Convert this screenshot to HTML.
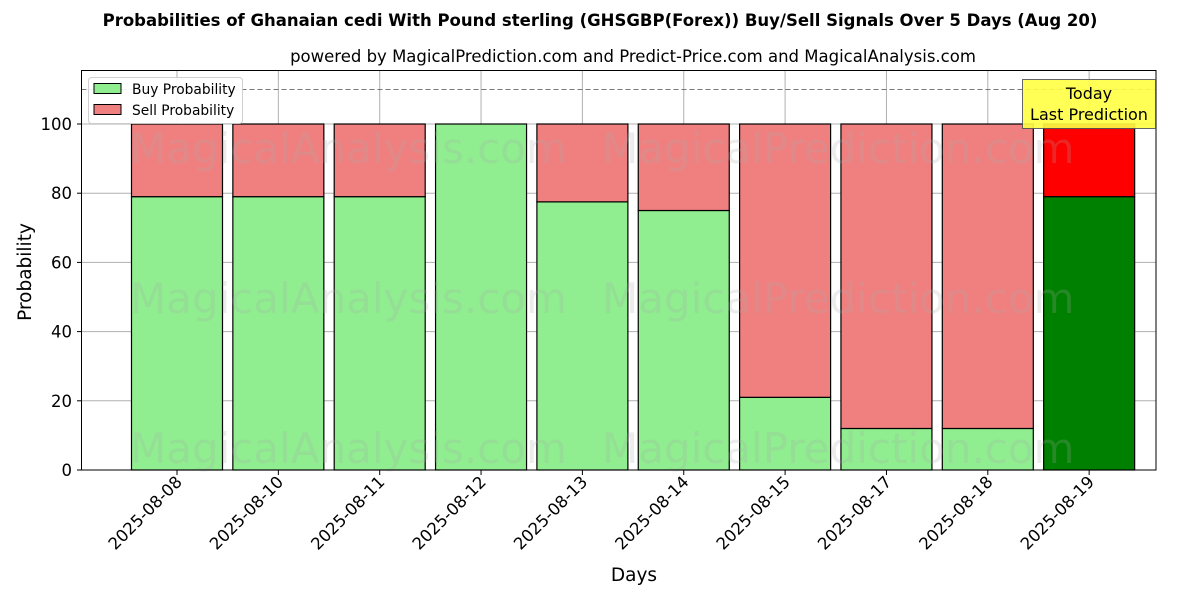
<!DOCTYPE html>
<html><head><meta charset="utf-8"><style>
body{margin:0;background:#fff;}
svg{display:block;font-family:"DejaVu Sans","Liberation Sans",sans-serif;}
</style></head><body>
<svg id="c" width="1200" height="600" xmlns="http://www.w3.org/2000/svg">
<text x="600" y="26" text-anchor="middle" font-size="16.5" font-weight="bold">Probabilities of Ghanaian cedi With Pound sterling (GHSGBP(Forex)) Buy/Sell Signals Over 5 Days (Aug 20)</text>
<text x="633" y="62" text-anchor="middle" font-size="16.5">powered by MagicalPrediction.com and Predict-Price.com and MagicalAnalysis.com</text>
<g id="grid"></g>
<g id="bars"></g>
<g id="wm" font-size="42" fill="#aaa" opacity="0.22">
<text x="130" y="163">MagicalAnalysis.com</text><text x="602" y="163">MagicalPrediction.com</text>
<text x="130" y="313">MagicalAnalysis.com</text><text x="602" y="313">MagicalPrediction.com</text>
<text x="130" y="463">MagicalAnalysis.com</text><text x="602" y="463">MagicalPrediction.com</text>
</g>
<line x1="81.5" x2="1156" y1="89.5" y2="89.5" stroke="#777" stroke-dasharray="5,3"/>
<rect x="81.5" y="70.5" width="1074.5" height="399.5" fill="none" stroke="#000"/>
<g id="ticks"></g>
<text x="634" y="581" text-anchor="middle" font-size="18.5">Days</text>
<text x="31" y="272" text-anchor="middle" font-size="18.5" transform="rotate(-90 31 272)">Probability</text>
<g>
<rect x="1022.5" y="79.5" width="133" height="49" fill="#ffff44" stroke="#555" opacity="0.9"/>
<text x="1089" y="99" text-anchor="middle" font-size="16">Today</text>
<text x="1089" y="120" text-anchor="middle" font-size="16">Last Prediction</text>
</g>
<g>
<rect x="88.5" y="77.5" width="154" height="46" fill="#fff" stroke="#ccc" rx="3" opacity="0.9"/>
<rect x="94" y="83.5" width="27" height="10" fill="#90ee90" stroke="#000"/>
<text x="132" y="94" font-size="13.8">Buy Probability</text>
<rect x="94" y="104.5" width="27" height="10" fill="#f08080" stroke="#000"/>
<text x="132" y="115" font-size="13.8">Sell Probability</text>
</g>
</svg>
<script>
const categories=["2025-08-08","2025-08-10","2025-08-11","2025-08-12","2025-08-13","2025-08-14","2025-08-15","2025-08-17","2025-08-18","2025-08-19"];
const buyValues=[79,79,79,100,77.5,75,21,12,12,79];
const sellValues=[21,21,21,0,22.5,25,79,88,88,21];
const yTicks=[0,20,40,60,80,100];
const NS="http://www.w3.org/2000/svg";
const y=v=>470-v*3.46;
const x=i=>177+i*101.35;
const bw=91;
function mk(t,a,p){const e=document.createElementNS(NS,t);for(const k in a)e.setAttribute(k,a[k]);p.appendChild(e);return e;}
const grid=document.getElementById('grid'),bars=document.getElementById('bars'),ticks=document.getElementById('ticks');
yTicks.forEach(v=>{
 const g=mk('line',{x1:81.5,x2:1156,y1:y(v),y2:y(v),stroke:'#b0b0b0'},grid);
 
 
 mk('line',{x1:77,x2:81.5,y1:y(v),y2:y(v),stroke:'#000'},ticks);
 const t=mk('text',{x:72,y:y(v)+6,'text-anchor':'end','font-size':16.5},ticks);t.textContent=v;
 
 
});
categories.forEach((c,i)=>{
 const gl=mk('line',{x1:x(i),x2:x(i),y1:70.5,y2:470,stroke:'#b0b0b0'},grid);
 
 
 const last=i===categories.length-1;
 const b=mk('rect',{x:x(i)-bw/2,y:y(buyValues[i]),width:bw,height:y(0)-y(buyValues[i]),fill:last?'#008000':'#90ee90',stroke:'#000','stroke-width':1.2},bars);
 
 
 const s=mk('rect',{x:x(i)-bw/2,y:y(buyValues[i]+sellValues[i]),width:bw,height:y(buyValues[i])-y(buyValues[i]+sellValues[i]),fill:last?'#ff0000':'#f08080',stroke:'#000','stroke-width':1.2},bars);
 
 
 mk('line',{x1:x(i),x2:x(i),y1:470,y2:475,stroke:'#000'},ticks);
 const t=mk('text',{x:x(i)+6,y:483,'text-anchor':'end','font-size':16.5,transform:`rotate(-45 ${x(i)+6} 483)`},ticks);t.textContent=c;
 
 
});
</script>
</body></html>
